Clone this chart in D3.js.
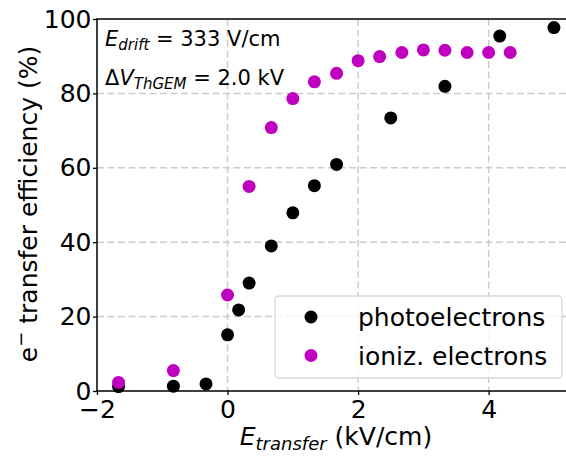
<!DOCTYPE html>
<html>
<head>
<meta charset="utf-8">
<script src="https://cdn.jsdelivr.net/npm/d3@7"></script>
<style>
  body { margin: 0; background: #fff; }
  text { font-family: "DejaVu Sans", sans-serif; fill: #000; }
</style>
</head>
<body>
<div id="chart"></div>
<script>
// photoelectrons (black)
var photoX = [-1.67, -0.83, -0.33, 0, 0.17, 0.33, 0.67, 1.0, 1.33, 1.67, 2.5, 3.33, 4.17, 5.0];
var photoY = [1.2, 1.3, 1.9, 15.1, 21.8, 29.0, 39.0, 47.9, 55.2, 60.9, 73.4, 81.9, 95.4, 97.7];

// ionization electrons (magenta)
var ionX = [-1.67, -0.83, 0, 0.33, 0.67, 1.0, 1.33, 1.67, 2.0, 2.33, 2.67, 3.0, 3.33, 3.67, 4.0, 4.33];
var ionY = [2.3, 5.5, 25.8, 55.0, 70.8, 78.6, 83.1, 85.4, 88.8, 89.9, 91.0, 91.7, 91.6, 91.0, 91.0, 91.0];

var xTicks = [-2, 0, 2, 4];
var yTicks = [0, 20, 40, 60, 80, 100];
var seriesNames = ["photoelectrons", "ioniz. electrons"];
var seriesColors = ["#000000", "#bf00bf"];

var W = 566, H = 457;
var margin = { top: 19, left: 97 };
var height = 372;

var svg = d3.select("#chart").append("svg")
    .attr("width", W).attr("height", H);
var g = svg.append("g")
    .attr("transform", "translate(" + margin.left + "," + margin.top + ")");

var x = d3.scaleLinear().domain([-2, 5.2]).range([0, 470]);
var y = d3.scaleLinear().domain([0, 100]).range([height, 0]);

// grid
g.selectAll(".vgrid").data(xTicks.filter(function(d) { return d > -2; }))
    .enter().append("line")
    .attr("x1", function(d) { return x(d); }).attr("x2", function(d) { return x(d); })
    .attr("y1", 0).attr("y2", height)
    .attr("stroke", "#cccccc").attr("stroke-width", 1.5).attr("stroke-dasharray", "7,3.5");
g.selectAll(".hgrid").data(yTicks.filter(function(d) { return d > 0 && d < 100; }))
    .enter().append("line")
    .attr("x1", 0).attr("x2", x(5.2))
    .attr("y1", function(d) { return y(d); }).attr("y2", function(d) { return y(d); })
    .attr("stroke", "#cccccc").attr("stroke-width", 1.5).attr("stroke-dasharray", "7,3.5");

// points
var series = [
    { xs: photoX, ys: photoY, color: seriesColors[0] },
    { xs: ionX, ys: ionY, color: seriesColors[1] }
];
series.forEach(function(s) {
    g.selectAll(null).data(s.xs).enter().append("circle")
        .attr("cx", function(d) { return x(d); })
        .attr("cy", function(d, i) { return y(s.ys[i]); })
        .attr("r", 6.5)
        .attr("fill", s.color);
});

// axes
var xAxis = g.append("g").attr("transform", "translate(0," + height + ")")
    .call(d3.axisBottom(x).tickValues(xTicks).tickSize(4).tickPadding(5)
        .tickFormat(function(d) { return d < 0 ? "\u2212" + (-d) : d; }));
var yAxis = g.append("g")
    .call(d3.axisLeft(y).tickValues(yTicks).tickSize(4).tickPadding(1.5));
[xAxis, yAxis].forEach(function(a) {
    a.select(".domain").remove();
    a.selectAll("line").attr("stroke", "#000").attr("stroke-width", 1.3);
    a.selectAll("text").style("font-size", "25px").attr("fill", "#000");
});

// spines
g.append("rect").attr("x", 0).attr("y", 0).attr("width", x(5.2)).attr("height", height)
    .attr("fill", "none").attr("stroke", "#000").attr("stroke-width", 1.5);

// axis labels
var xl = svg.append("text").attr("x", 336).attr("y", 445).attr("text-anchor", "middle")
    .style("font-size", "25px");
xl.append("tspan").style("font-style", "italic").text("E");
xl.append("tspan").style("font-style", "italic").style("font-size", "18px").attr("dy", 5).text("transfer");
xl.append("tspan").attr("dy", -5).text(" (kV/cm)");

var yl = svg.append("text").attr("transform", "translate(37,204) rotate(-90)")
    .attr("text-anchor", "middle").style("font-size", "25px");
yl.append("tspan").text("e");
yl.append("tspan").style("font-size", "18px").attr("dy", -10).text("\u2212");
yl.append("tspan").attr("dy", 10).text(" transfer efficiency (%)");

// annotations
var a1 = svg.append("text").attr("x", 105).attr("y", 46).style("font-size", "21px");
a1.append("tspan").style("font-style", "italic").text("E");
a1.append("tspan").style("font-style", "italic").style("font-size", "15px").attr("dy", 4).text("drift");
a1.append("tspan").attr("dy", -4).text(" = 333 V/cm");

var a2 = svg.append("text").attr("x", 105).attr("y", 85).style("font-size", "21px");
a2.append("tspan").text("\u0394");
a2.append("tspan").style("font-style", "italic").text("V");
a2.append("tspan").style("font-style", "italic").style("font-size", "15px").attr("dy", 4).text("ThGEM");
a2.append("tspan").attr("dy", -4).text(" = 2.0 kV");

// legend
var leg = svg.append("g").attr("transform", "translate(275,296)");
leg.append("rect").attr("width", 287).attr("height", 82).attr("rx", 4)
    .attr("fill", "#fff").attr("fill-opacity", 0.8)
    .attr("stroke", "#d9d9d9").attr("stroke-width", 1.3);
seriesNames.forEach(function(name, i) {
    leg.append("circle").attr("cx", 36).attr("cy", 21 + i * 38.5).attr("r", 6.5).attr("fill", seriesColors[i]);
    leg.append("text").attr("x", 83).attr("y", 30 + i * 38.5).style("font-size", "25px").text(name);
});
</script>
</body>
</html>
